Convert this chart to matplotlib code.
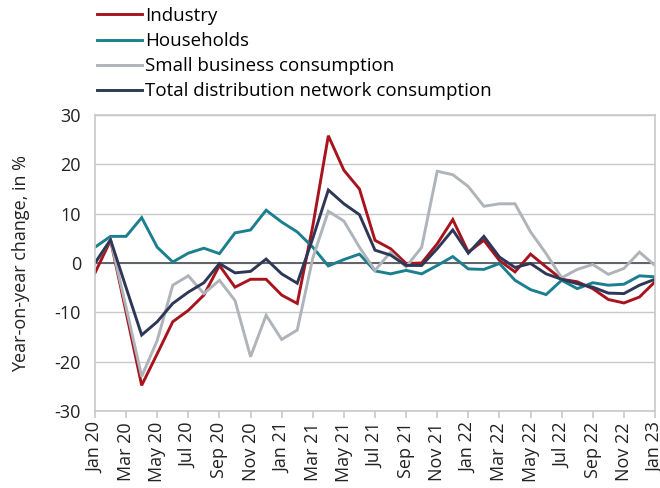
import matplotlib
matplotlib.use("Agg")
import matplotlib.pyplot as plt
import numpy as np

months = ["Jan 20", "Feb 20", "Mar 20", "Apr 20", "May 20", "Jun 20", "Jul 20", "Aug 20", "Sep 20", "Oct 20", "Nov 20", "Dec 20",
          "Jan 21", "Feb 21", "Mar 21", "Apr 21", "May 21", "Jun 21", "Jul 21", "Aug 21", "Sep 21", "Oct 21", "Nov 21", "Dec 21",
          "Jan 22", "Feb 22", "Mar 22", "Apr 22", "May 22", "Jun 22", "Jul 22", "Aug 22", "Sep 22", "Oct 22", "Nov 22", "Dec 22",
          "Jan 23"]

industry = [-2.0, 4.6, -10.0, -24.8, -18.4, -11.9, -9.6, -6.5, -0.5, -4.9, -3.3, -3.3, -6.5,
            -8.2, 7.5, 25.8, 18.8, 15.0, 4.6, 2.9, -0.1, 0.0, 3.9, 8.8, 2.2,
            4.6, 0.5, -1.8, 1.8, -0.8, -3.3, -3.8, -5.2, -7.4, -8.1, -6.9, -3.8]
households = [3.2, 5.4, 5.4, 9.2, 3.2, 0.2, 2.0, 3.0, 1.9, 6.1, 6.7, 10.7, 8.3,
              6.3, 3.2, -0.6, 0.7, 1.8, -1.6, -2.2, -1.5, -2.2, -0.5, 1.3, -1.2,
              -1.3, -0.1, -3.5, -5.4, -6.4, -3.5, -5.2, -4.0, -4.5, -4.3, -2.6, -2.8]
small_business = [0.0, 4.7, -9.0, -23.0, -15.7, -4.5, -2.6, -6.2, -3.5, -7.6, -19.0, -10.6, -15.5,
                  -13.6, 1.0, 10.5, 8.5, 3.2, -1.5, 2.2, -0.8, 3.2, 18.6, 17.9, 15.5,
                  11.5, 12.0, 12.0, 6.3, 1.9, -3.0, -1.3, -0.3, -2.3, -1.1, 2.2, -0.5]
total = [0.0, 4.7, -5.0, -14.6, -11.9, -8.2, -5.9, -4.0, -0.1, -2.0, -1.7, 0.8, -2.2,
         -4.1, 5.0, 14.8, 12.0, 9.8, 2.6, 1.6, -0.5, -0.5, 2.9, 6.7, 2.0,
         5.4, 1.2, -0.9, -0.1, -2.2, -3.3, -4.2, -4.9, -6.1, -6.2, -4.5, -3.3]

series_names = ["Industry", "Households", "Small business consumption", "Total distribution network consumption"]
colors = ["#A8141E", "#1B7F8F", "#AEB4B9", "#2E3856"]

plt.rcParams['font.family'] = ['Open Sans', 'DejaVu Sans']
plt.rcParams['axes.unicode_minus'] = False

fig = plt.figure(figsize=(6.6, 4.88), dpi=100)
ax = fig.add_axes([95/660, 1 - 411/488, (655-95)/660, (411-115)/488])

x = np.arange(len(months))
lines = []
for data, name, c in zip([industry, households, small_business, total], series_names, colors):
    ln, = ax.plot(x, data, color=c, lw=2.1, label=name, solid_joinstyle='miter')
    lines.append(ln)

ax.axhline(0, color="#555a60", lw=1.3, zorder=1)

ax.set_xlim(0, len(months) - 1)
ax.set_ylim(-30, 30)
ax.set_yticks(np.arange(-30, 31, 10))
ax.set_xticks(x[::2])
ax.set_xticklabels(months[::2], rotation=90)
ax.grid(axis='y', color="#c8c8c8", lw=1.0)
ax.set_axisbelow(True)
for s in ax.spines.values():
    s.set_color("#c8c8c8")
    s.set_linewidth(1.2)
ax.tick_params(axis='y', length=0, labelsize=13, pad=10, colors="#222222")
ax.tick_params(axis='x', length=5, color="#c8c8c8", width=1.2, labelsize=13, pad=3, labelcolor="#222222")
ax.set_ylabel("Year-on-year change, in %", fontsize=13, color="#222222", labelpad=18)

fig.legend(handles=lines, loc='upper left', bbox_to_anchor=(97/660, 1 - 7/488), frameon=False,
           fontsize=13.5, handlelength=2.4, handletextpad=0.15, labelspacing=0.38, borderaxespad=0, borderpad=0)

fig.savefig("out.png", dpi=100)
